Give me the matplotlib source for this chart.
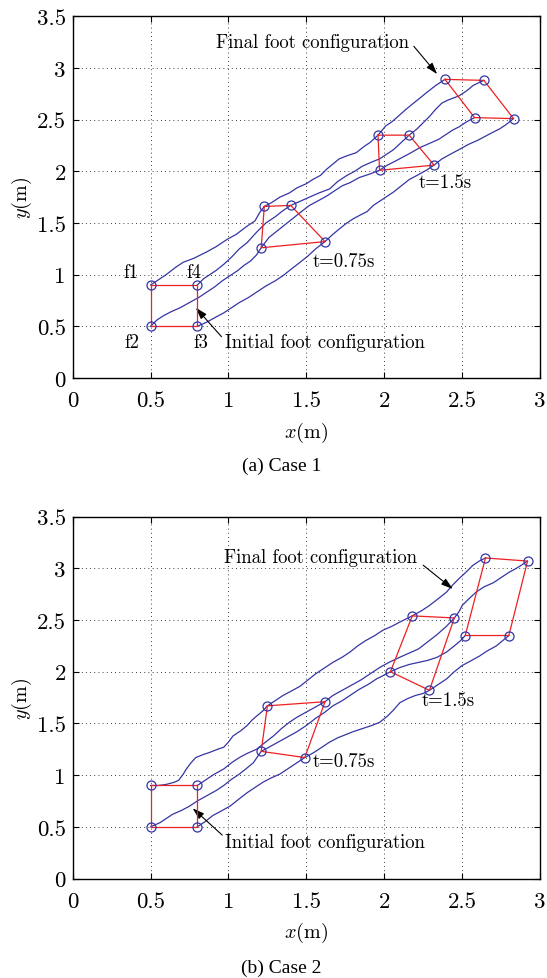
import matplotlib
matplotlib.use("Agg")
import matplotlib.pyplot as plt
from matplotlib.ticker import FuncFormatter, MultipleLocator

plt.rcParams['font.family'] = ['cmr10', 'DejaVu Serif']
plt.rcParams['mathtext.fontset'] = 'cm'
plt.rcParams['axes.formatter.use_mathtext'] = True

# ---- case 1: foot trajectories (f1, f4, f2, f3) ----
c1_f1 = [(0.50, 0.90), (0.55, 0.95), (0.60, 1.00), (0.66, 1.07), (0.71, 1.12), (0.78, 1.16),
         (0.86, 1.22), (0.92, 1.27), (0.99, 1.34), (1.05, 1.39), (1.12, 1.47), (1.17, 1.52),
         (1.20, 1.60), (1.23, 1.66), (1.28, 1.70), (1.33, 1.75), (1.39, 1.79), (1.44, 1.84),
         (1.50, 1.88), (1.54, 1.92), (1.59, 1.96), (1.63, 2.02), (1.67, 2.07), (1.71, 2.12),
         (1.76, 2.15), (1.82, 2.18), (1.87, 2.24), (1.91, 2.28), (1.96, 2.35), (2.01, 2.44),
         (2.05, 2.48), (2.08, 2.52), (2.14, 2.60), (2.18, 2.65), (2.23, 2.71), (2.27, 2.76),
         (2.33, 2.83), (2.39, 2.89)]
c1_f4 = [(0.80, 0.90), (0.84, 0.96), (0.88, 1.00), (0.92, 1.04), (0.97, 1.10), (1.02, 1.17),
         (1.07, 1.25), (1.12, 1.31), (1.18, 1.41), (1.24, 1.50), (1.30, 1.56), (1.35, 1.62),
         (1.40, 1.67), (1.46, 1.71), (1.52, 1.75), (1.58, 1.79), (1.65, 1.83), (1.70, 1.90),
         (1.76, 1.96), (1.81, 2.00), (1.86, 2.05), (1.92, 2.09), (1.97, 2.12), (2.02, 2.17),
         (2.06, 2.21), (2.11, 2.28), (2.16, 2.35), (2.21, 2.41), (2.25, 2.47), (2.29, 2.53),
         (2.33, 2.60), (2.37, 2.66), (2.41, 2.69), (2.48, 2.73), (2.53, 2.78), (2.57, 2.83),
         (2.61, 2.86), (2.64, 2.88)]
c1_f2 = [(0.50, 0.50), (0.54, 0.56), (0.58, 0.60), (0.63, 0.64), (0.69, 0.68), (0.75, 0.73),
         (0.81, 0.78), (0.86, 0.83), (0.91, 0.88), (0.96, 0.94), (1.01, 0.99), (1.06, 1.04),
         (1.10, 1.09), (1.14, 1.13), (1.18, 1.19), (1.21, 1.26), (1.26, 1.36), (1.31, 1.42),
         (1.36, 1.48), (1.41, 1.54), (1.46, 1.60), (1.52, 1.67), (1.57, 1.71), (1.63, 1.76),
         (1.68, 1.81), (1.73, 1.86), (1.78, 1.89), (1.84, 1.94), (1.90, 1.97), (1.97, 2.01),
         (2.02, 2.06), (2.06, 2.09), (2.11, 2.13), (2.16, 2.17), (2.23, 2.23), (2.29, 2.27),
         (2.35, 2.31), (2.40, 2.36), (2.44, 2.40), (2.48, 2.43), (2.53, 2.48), (2.58, 2.52)]
c1_f3 = [(0.80, 0.50), (0.86, 0.54), (0.92, 0.59), (0.97, 0.63), (1.02, 0.68), (1.07, 0.73),
         (1.13, 0.78), (1.18, 0.83), (1.24, 0.89), (1.30, 0.94), (1.35, 0.99), (1.40, 1.05),
         (1.46, 1.12), (1.51, 1.18), (1.56, 1.25), (1.62, 1.32), (1.67, 1.39), (1.71, 1.44),
         (1.76, 1.50), (1.80, 1.54), (1.85, 1.58), (1.89, 1.61), (1.93, 1.67), (1.98, 1.72),
         (2.02, 1.76), (2.06, 1.80), (2.11, 1.86), (2.16, 1.92), (2.21, 1.96), (2.27, 2.01),
         (2.32, 2.06), (2.37, 2.12), (2.43, 2.17), (2.48, 2.21), (2.54, 2.26), (2.60, 2.30),
         (2.65, 2.34), (2.70, 2.38), (2.74, 2.41), (2.78, 2.45), (2.83, 2.51)]

# foot configurations, order f1, f4, f3, f2
c1_t0 = [(0.50, 0.90), (0.80, 0.90), (0.80, 0.50), (0.50, 0.50)]
c1_t075 = [(1.23, 1.66), (1.40, 1.67), (1.62, 1.32), (1.21, 1.26)]
c1_t15 = [(1.96, 2.35), (2.16, 2.35), (2.32, 2.06), (1.97, 2.01)]
c1_tf = [(2.39, 2.89), (2.64, 2.88), (2.83, 2.51), (2.58, 2.52)]

# ---- case 2 ----
c2_f1 = [(0.50, 0.90), (0.55, 0.90), (0.60, 0.91), (0.65, 0.93), (0.68, 0.95), (0.71, 1.01),
         (0.73, 1.06), (0.76, 1.12), (0.79, 1.17), (0.84, 1.20), (0.88, 1.22), (0.93, 1.25),
         (0.97, 1.27), (1.00, 1.32), (1.03, 1.38), (1.08, 1.43), (1.12, 1.48), (1.15, 1.53),
         (1.18, 1.57), (1.22, 1.62), (1.25, 1.67), (1.30, 1.72), (1.35, 1.77), (1.40, 1.81),
         (1.46, 1.86), (1.51, 1.92), (1.56, 1.98), (1.62, 2.04), (1.67, 2.09), (1.73, 2.14),
         (1.78, 2.19), (1.83, 2.25), (1.88, 2.30), (1.94, 2.35), (1.99, 2.40), (2.05, 2.44),
         (2.10, 2.48), (2.14, 2.51), (2.18, 2.54), (2.24, 2.59), (2.29, 2.64), (2.35, 2.71),
         (2.40, 2.77), (2.44, 2.84), (2.48, 2.90), (2.53, 2.97), (2.57, 3.03), (2.61, 3.07),
         (2.65, 3.10)]
c2_f4 = [(0.80, 0.90), (0.83, 0.93), (0.86, 0.96), (0.91, 1.01), (0.97, 1.06), (1.02, 1.12),
         (1.07, 1.17), (1.12, 1.21), (1.18, 1.25), (1.23, 1.31), (1.29, 1.38), (1.34, 1.45),
         (1.39, 1.51), (1.44, 1.56), (1.50, 1.61), (1.56, 1.66), (1.62, 1.71), (1.67, 1.77),
         (1.73, 1.82), (1.79, 1.87), (1.85, 1.92), (1.91, 1.98), (1.97, 2.04), (2.03, 2.09),
         (2.10, 2.14), (2.16, 2.18), (2.22, 2.22), (2.28, 2.29), (2.34, 2.36), (2.40, 2.44),
         (2.45, 2.52), (2.48, 2.58), (2.50, 2.64), (2.54, 2.70), (2.59, 2.77), (2.64, 2.82),
         (2.70, 2.86), (2.75, 2.91), (2.80, 2.96), (2.86, 3.01), (2.92, 3.07)]
c2_f2 = [(0.50, 0.50), (0.53, 0.52), (0.56, 0.54), (0.60, 0.58), (0.64, 0.62), (0.70, 0.66),
         (0.75, 0.70), (0.80, 0.75), (0.86, 0.80), (0.92, 0.85), (0.97, 0.90), (1.02, 0.96),
         (1.07, 1.01), (1.12, 1.07), (1.16, 1.12), (1.21, 1.23), (1.26, 1.27), (1.32, 1.32),
         (1.38, 1.37), (1.44, 1.42), (1.50, 1.48), (1.56, 1.55), (1.62, 1.61), (1.67, 1.67),
         (1.73, 1.72), (1.78, 1.77), (1.84, 1.83), (1.90, 1.88), (1.95, 1.93), (1.99, 1.96),
         (2.04, 2.00), (2.10, 2.04), (2.16, 2.07), (2.22, 2.09), (2.28, 2.11), (2.34, 2.14),
         (2.40, 2.19), (2.45, 2.25), (2.49, 2.30), (2.52, 2.35)]
c2_f3 = [(0.80, 0.50), (0.85, 0.55), (0.90, 0.61), (0.95, 0.65), (1.01, 0.70), (1.06, 0.76),
         (1.12, 0.83), (1.17, 0.88), (1.22, 0.93), (1.27, 0.97), (1.33, 1.01), (1.37, 1.05),
         (1.41, 1.09), (1.45, 1.13), (1.49, 1.17), (1.55, 1.22), (1.60, 1.27), (1.65, 1.32),
         (1.70, 1.36), (1.75, 1.39), (1.80, 1.42), (1.86, 1.45), (1.92, 1.48), (1.97, 1.51),
         (2.02, 1.57), (2.06, 1.63), (2.10, 1.70), (2.15, 1.74), (2.20, 1.77), (2.25, 1.79),
         (2.29, 1.82), (2.34, 1.87), (2.40, 1.93), (2.45, 2.00), (2.50, 2.06), (2.55, 2.10),
         (2.61, 2.15), (2.66, 2.20), (2.72, 2.25), (2.76, 2.30), (2.80, 2.35)]

c2_t0 = [(0.50, 0.90), (0.80, 0.90), (0.80, 0.50), (0.50, 0.50)]
c2_t075 = [(1.25, 1.67), (1.62, 1.71), (1.49, 1.17), (1.21, 1.23)]
c2_t15 = [(2.18, 2.54), (2.45, 2.52), (2.29, 1.82), (2.04, 2.00)]
c2_tf = [(2.65, 3.10), (2.92, 3.07), (2.80, 2.35), (2.52, 2.35)]

blue = '#3535a5'
red = '#ee2020'


def draw_case(ax, trajs, configs):
    for tr in trajs:
        ax.plot([p[0] for p in tr], [p[1] for p in tr], color=blue, lw=0.9, zorder=3)
    for cfg in configs:
        xs = [p[0] for p in cfg] + [cfg[0][0]]
        ys = [p[1] for p in cfg] + [cfg[0][1]]
        ax.plot(xs, ys, color=red, lw=0.9, zorder=4)
        ax.plot(xs[:-1], ys[:-1], 'o', mfc='none', mec=blue, ms=6.5, mew=0.9, zorder=5)

    ax.set_xlim(0, 3)
    ax.set_ylim(0, 3.5)
    ax.xaxis.set_major_locator(MultipleLocator(0.5))
    ax.yaxis.set_major_locator(MultipleLocator(0.5))
    fmt = FuncFormatter(lambda v, pos: '%g' % v)
    ax.xaxis.set_major_formatter(fmt)
    ax.yaxis.set_major_formatter(fmt)
    ax.grid(True, color='black', linestyle=(0, (1, 4)), lw=0.6)
    ax.tick_params(direction='in', top=True, right=True, length=4, labelsize=16.5, pad=5)
    ax.tick_params(axis='x', pad=9)
    for s in ax.spines.values():
        s.set_linewidth(1.0)
    ax.set_xlabel(r'$x(\mathrm{m})$', fontsize=14.5, labelpad=7)
    ax.set_ylabel(r'$y(\mathrm{m})$', fontsize=14.5, labelpad=2)


fig = plt.figure(figsize=(5.47, 9.79), dpi=100)
ax1 = fig.add_axes([0.1329, 0.6129, 0.8543, 0.3694])
ax2 = fig.add_axes([0.1329, 0.1016, 0.8543, 0.3697])

draw_case(ax1, [c1_f1, c1_f4, c1_f2, c1_f3], [c1_t0, c1_t075, c1_t15, c1_tf])
draw_case(ax2, [c2_f1, c2_f4, c2_f2, c2_f3], [c2_t0, c2_t075, c2_t15, c2_tf])

afs = 13.5
arrow = dict(arrowstyle='-|>,head_length=0.7,head_width=0.22', color='black', lw=0.8,
             shrinkA=0, shrinkB=0)

# case 1 labels
ax1.text(0.375, 1.03, 'f1', fontsize=afs, ha='center', va='center')
ax1.text(0.78, 1.03, 'f4', fontsize=afs, ha='center', va='center')
ax1.text(0.38, 0.35, 'f2', fontsize=afs, ha='center', va='center')
ax1.text(0.82, 0.35, 'f3', fontsize=afs, ha='center', va='center')
ax1.text(0.98, 0.35, 'Initial foot configuration', fontsize=afs, ha='left', va='center')
ax1.annotate('', xy=(0.79, 0.68), xytext=(0.955, 0.40), arrowprops=arrow)
ax1.text(0.92, 3.25, 'Final foot configuration', fontsize=afs, ha='left', va='center')
ax1.annotate('', xy=(2.34, 2.94), xytext=(2.19, 3.21), arrowprops=arrow)
ax1.text(1.54, 1.13, 't=0.75s', fontsize=afs, ha='left', va='center')
ax1.text(2.22, 1.90, 't=1.5s', fontsize=afs, ha='left', va='center')

# case 2 labels
ax2.text(0.98, 0.35, 'Initial foot configuration', fontsize=afs, ha='left', va='center')
ax2.annotate('', xy=(0.77, 0.68), xytext=(0.96, 0.42), arrowprops=arrow)
ax2.text(0.97, 3.11, 'Final foot configuration', fontsize=afs, ha='left', va='center')
ax2.annotate('', xy=(2.44, 2.80), xytext=(2.25, 3.03), arrowprops=arrow)
ax2.text(1.54, 1.14, 't=0.75s', fontsize=afs, ha='left', va='center')
ax2.text(2.24, 1.73, 't=1.5s', fontsize=afs, ha='left', va='center')

fig.text(0.515, 1 - 466 / 979, '(a) Case 1', family='Liberation Serif', fontsize=14,
         ha='center', va='center')
fig.text(0.515, 1 - 968 / 979, '(b) Case 2', family='Liberation Serif', fontsize=14,
         ha='center', va='center')

fig.savefig('out.png', dpi=100)
